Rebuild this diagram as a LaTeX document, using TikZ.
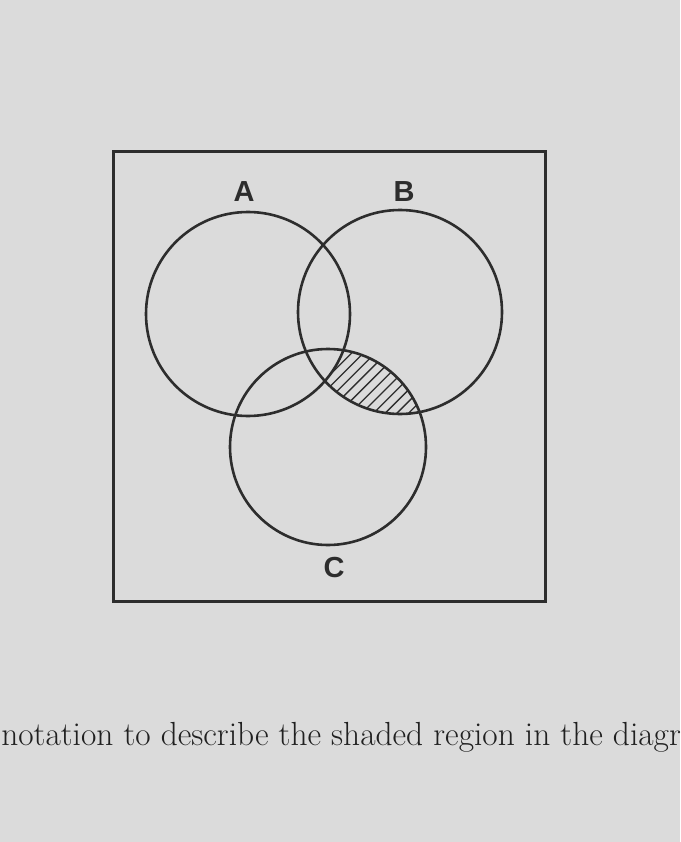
\documentclass[tikz,border=0pt]{standalone}
\usepackage{fontspec}
\newfontfamily\labelfont{Liberation Sans}
\usetikzlibrary{calc}
\usetikzlibrary{positioning}
\definecolor{paper}{RGB}{219,219,219}
\definecolor{ink}{RGB}{45,45,45}

\begin{document}
\begin{tikzpicture}[x=1pt, y=-1pt, line width=2.6pt, draw=ink,
    setlabel/.style={text=ink, inner sep=0pt, font=\labelfont\bfseries\fontsize{29}{29}\selectfont},
    hatch/.style={line width=1.3pt, draw=ink}]
        % page
        \fill[paper] (0,0) rectangle (680,842);
        \useasboundingbox (0,0) rectangle (680,842);
        \coordinate (cA) at (248,314);
        \coordinate (cB) at (400,312);
        \coordinate (cC) at (328,447);
        % shaded part: in B and C, not in A
        \begin{scope}
            \clip (cB) circle[radius=102pt];
            \clip (cC) circle[radius=98pt];
            \foreach \i in {0,...,18}
                \draw[hatch] (228+\i*11.7, 430) -- ++(140,-140);
            \fill[paper] (cA) circle[radius=102pt];
        \end{scope}
        \draw[line width=3pt] (113,152) rectangle (545,601);
        \draw (cA) circle[radius=102pt];
        \draw (cB) circle[radius=102pt];
        \draw (cC) circle[radius=98pt];
        \node[setlabel] (labA) at (244,192) {A};
        \node[setlabel] (labB) at (404,192) {B};
        \node[setlabel] (labC) at (334,568) {C};
        \node[anchor=base west, inner sep=0pt, text=ink!70!black, font=\fontsize{33.4}{40}\selectfont] (question) at (0,745) {notation to describe the shaded region in the diagr};
    \end{tikzpicture}
\end{document}
